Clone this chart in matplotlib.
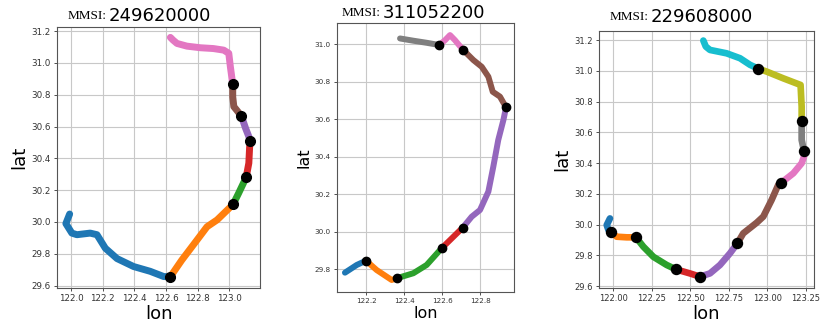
import matplotlib
matplotlib.use("Agg")
import matplotlib.pyplot as plt

# ship ids
mmsi = ["249620000", "311052200", "229608000"]

# track 1 (lon, lat) and indices of stop points
lon1 = [121.99, 121.966, 122.004, 122.036, 122.12, 122.163, 122.216, 122.29, 122.395, 122.5,
        122.586, 122.628, 122.70, 122.797, 122.86, 122.924, 123.025, 123.06, 123.108, 123.125,
        123.13, 123.135, 123.104, 123.078, 123.03, 123.023, 123.023, 123.008, 122.998, 122.966,
        122.90, 122.818, 122.733, 122.67, 122.645, 122.628]
lat1 = [30.05, 29.99, 29.93, 29.92, 29.93, 29.92, 29.835, 29.77, 29.72, 29.69,
        29.657, 29.656, 29.76, 29.887, 29.97, 30.013, 30.11, 30.18, 30.28, 30.37,
        30.47, 30.511, 30.59, 30.666, 30.725, 30.787, 30.867, 30.976, 31.06, 31.08,
        31.09, 31.095, 31.105, 31.122, 31.143, 31.16]
stops1 = [11, 16, 18, 21, 23, 26]

# track 2
lon2 = [122.089, 122.151, 122.2, 122.256, 122.335, 122.361, 122.449, 122.519, 122.598, 122.709,
        122.756, 122.8, 122.844, 122.87, 122.896, 122.923, 122.937, 122.905, 122.867, 122.844,
        122.809, 122.765, 122.712, 122.668, 122.642, 122.616, 122.586, 122.519, 122.449, 122.379]
lat2 = [29.782, 29.823, 29.846, 29.796, 29.743, 29.752, 29.779, 29.823, 29.912, 30.022,
        30.08, 30.116, 30.214, 30.347, 30.489, 30.595, 30.663, 30.72, 30.746, 30.826,
        30.879, 30.915, 30.968, 31.021, 31.048, 31.021, 30.995, 31.007, 31.018, 31.03]
stops2 = [2, 5, 8, 9, 16, 22, 26]

# track 3
lon3 = [121.978, 121.957, 121.968, 121.983, 122.022, 122.087, 122.147, 122.195, 122.26, 122.346,
        122.407, 122.497, 122.562, 122.627, 122.692, 122.757, 122.805, 122.843, 122.93, 122.973,
        123.027, 123.07, 123.086, 123.168, 123.222, 123.237, 123.237, 123.222, 123.222, 123.222,
        123.222, 123.215, 123.103, 122.995, 122.941, 122.887, 122.822, 122.735, 122.627, 122.6,
        122.584]
lat3 = [30.04, 29.997, 29.965, 29.95, 29.921, 29.917, 29.917, 29.856, 29.79, 29.737,
        29.708, 29.682, 29.661, 29.682, 29.737, 29.813, 29.878, 29.943, 30.012, 30.052,
        30.16, 30.258, 30.269, 30.334, 30.399, 30.442, 30.481, 30.551, 30.616, 30.675,
        30.768, 30.909, 30.952, 30.996, 31.015, 31.04, 31.083, 31.115, 31.137, 31.159,
        31.198]
stops3 = [3, 6, 10, 12, 16, 22, 26, 29, 34]

xticks1 = [122.0, 122.2, 122.4, 122.6, 122.8, 123.0]
yticks1 = [29.6, 29.8, 30.0, 30.2, 30.4, 30.6, 30.8, 31.0, 31.2]
xticks2 = [122.2, 122.4, 122.6, 122.8]
yticks2 = [29.8, 30.0, 30.2, 30.4, 30.6, 30.8, 31.0]
xticks3 = [122.00, 122.25, 122.50, 122.75, 123.00, 123.25]
yticks3 = [29.6, 29.8, 30.0, 30.2, 30.4, 30.6, 30.8, 31.0, 31.2]

colors = plt.get_cmap("tab10").colors

fig = plt.figure(figsize=(8.3, 3.32), dpi=100)

panels = [
    # lon, lat, stops, rect, xlim, ylim, xticks, yticks, xfmt, tick fs, label fs, lw, ms, title x, title y
    (lon1, lat1, stops1, [0.0687, 0.1325, 0.2446, 0.786], (121.91, 123.196), (29.585, 31.225),
     xticks1, yticks1, "%.1f", 6.3, 13, 5.0, 7.0, 107, 16),
    (lon2, lat2, stops2, [0.406, 0.1205, 0.2133, 0.810], (122.047, 122.979), (29.679, 31.112),
     xticks2, yticks2, "%.1f", 5.2, 11.5, 4.3, 6.0, 381, 13),
    (lon3, lat3, stops3, [0.7217, 0.1325, 0.259, 0.774], (121.907, 123.302), (29.587, 31.26),
     xticks3, yticks3, "%.2f", 6.0, 13, 4.8, 7.2, 649, 17),
]

for k, (lon, lat, stops, rect, xl, yl, xt, yt, xf, tfs, lfs, lw, ms, tx, ty) in enumerate(panels):
    ax = fig.add_axes(rect)
    bounds = [0] + stops + [len(lon) - 1]
    for i in range(len(bounds) - 1):
        a, b = bounds[i], bounds[i + 1]
        ax.plot(lon[a:b + 1], lat[a:b + 1], color=colors[i % 10], lw=lw,
                solid_capstyle="round", solid_joinstyle="round", zorder=2)
    ax.plot([lon[s] for s in stops], [lat[s] for s in stops], "o", color="black",
            ms=ms, zorder=3)
    ax.set_xlim(*xl)
    ax.set_ylim(*yl)
    ax.set_xticks(xt)
    ax.set_yticks(yt)
    ax.set_xticklabels([xf % v for v in xt])
    ax.set_yticklabels(["%.1f" % v for v in yt])
    ax.tick_params(labelsize=tfs, length=2.5, width=0.6, pad=2, colors="#333333")
    ax.grid(True, color="#c8c8c8", lw=0.8)
    ax.set_axisbelow(True)
    for sp in ax.spines.values():
        sp.set_color("#555555")
        sp.set_linewidth(0.8)
    ax.set_xlabel("lon", fontsize=lfs, labelpad=1)
    ax.set_ylabel("lat", fontsize=lfs, labelpad=2)

    # title: serif prefix + sans number
    fig.text(tx / 830, 1 - ty / 332, "MMSI:", family="Liberation Serif", fontsize=9.5,
             ha="right", va="center")
    fig.text(tx / 830 + 0.002, 1 - ty / 332, mmsi[k], fontsize=13, ha="left", va="center")

fig.savefig("out.png", dpi=100)
